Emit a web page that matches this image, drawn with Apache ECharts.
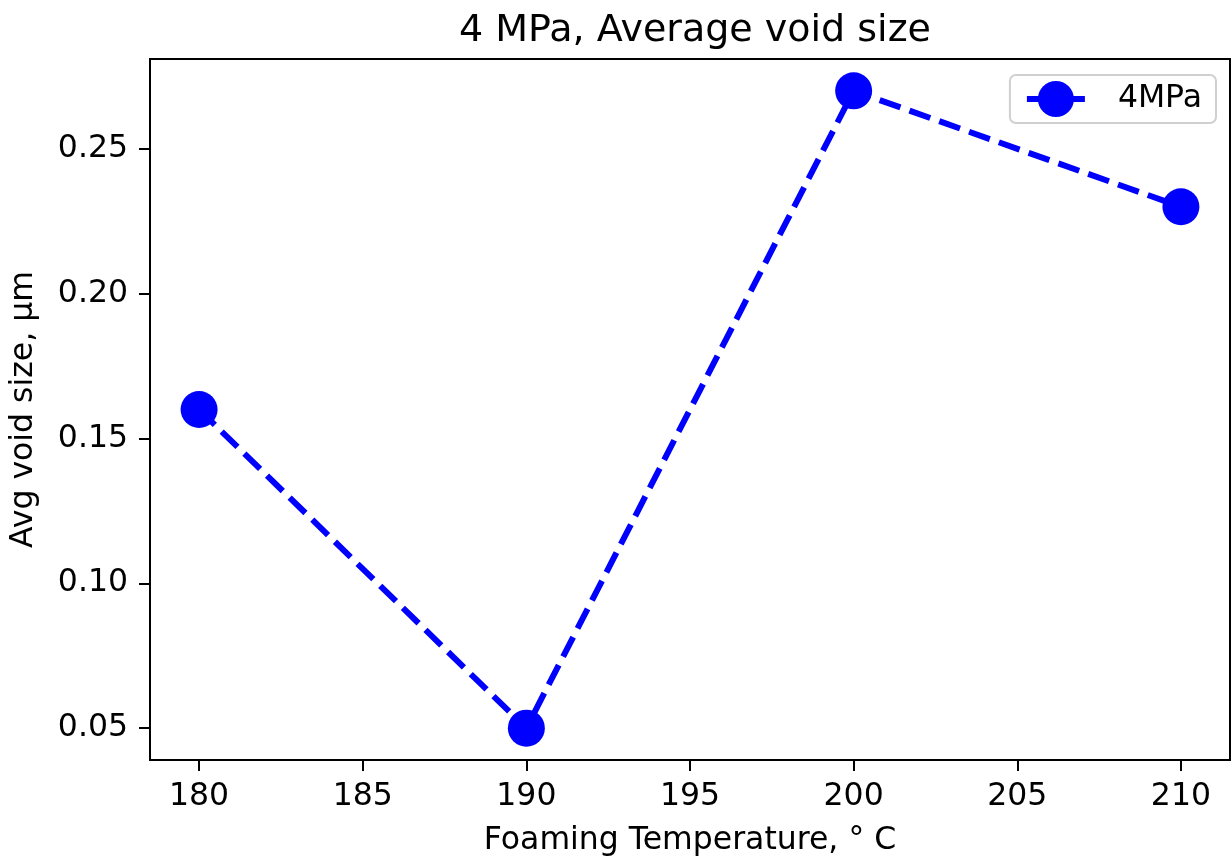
<!DOCTYPE html>
<html>
<head>
<meta charset="utf-8">
<script src="https://cdn.jsdelivr.net/npm/echarts@6/dist/echarts.min.js"></script>
<style>html,body{margin:0;padding:0;background:#fff}#c{width:1231px;height:865px}</style>
</head>
<body>
<div id="c"></div>
<script>
const temperatures = [180, 190, 200, 210];
const voidSize = [0.16, 0.05, 0.27, 0.23];
const xTicks = [180, 185, 190, 195, 200, 205, 210];
const yTicks = [0.05, 0.10, 0.15, 0.20, 0.25];
const seriesName = '4MPa';

const F = 'DejaVu Sans';
const chart = echarts.init(document.getElementById('c'), null, {renderer: 'canvas'});
chart.setOption({
  animation: false,
  backgroundColor: '#fff',
  title: {
    text: '4 MPa, Average void size',
    left: 690, top: 7, textAlign: 'center',
    textStyle: {fontFamily: F, fontSize: 38, fontWeight: 'normal', color: '#000'}
  },
  grid: {left: 150, right: 1, top: 59, bottom: 105, show: true, borderColor: '#000', borderWidth: 2, backgroundColor: 'transparent'},
  legend: {
    right: 15, top: 75,
    padding: [6, 14, 6, 14],
    borderColor: '#d0d0d0', borderWidth: 2, borderRadius: 6,
    backgroundColor: '#fff',
    itemWidth: 58, itemHeight: 45,
    lineStyle: {type: 'solid', width: 6},
    textStyle: {fontFamily: F, fontSize: 31.5, color: '#000', padding: [0, 0, 0, 28]},
    data: [seriesName]
  },
  xAxis: {
    type: 'value', min: 178.5, max: 211.5,
    name: 'Foaming Temperature, ° C', nameLocation: 'middle', nameGap: 65,
    nameTextStyle: {fontFamily: F, fontSize: 31.5, color: '#000'},
    axisLine: {lineStyle: {color: '#000', width: 2}},
    axisTick: {customValues: xTicks, length: 11, lineStyle: {color: '#000', width: 2}},
    axisLabel: {customValues: xTicks, fontFamily: F, fontSize: 31.5, color: '#000', margin: 21},
    splitLine: {show: false}
  },
  yAxis: {
    type: 'value', min: 0.039, max: 0.281,
    name: 'Avg void size, μm', nameLocation: 'middle', nameGap: 110,
    nameTextStyle: {fontFamily: F, fontSize: 31.5, color: '#000'},
    axisLine: {show: true, lineStyle: {color: '#000', width: 2}},
    axisTick: {show: true, customValues: yTicks, length: 11, lineStyle: {color: '#000', width: 2}},
    axisLabel: {customValues: yTicks, fontFamily: F, fontSize: 31.5, color: '#000', margin: 22,
      formatter: v => v.toFixed(2)},
    splitLine: {show: false}
  },
  series: [{
    name: seriesName,
    type: 'line',
    data: temperatures.map((t, i) => [t, voidSize[i]]),
    symbol: 'circle', symbolSize: 37,
    itemStyle: {color: '#0000ff', borderWidth: 0},
    lineStyle: {color: '#0000ff', width: 6, type: [22, 9.6], cap: 'butt'},
    clip: false
  }]
});
</script>
</body>
</html>
